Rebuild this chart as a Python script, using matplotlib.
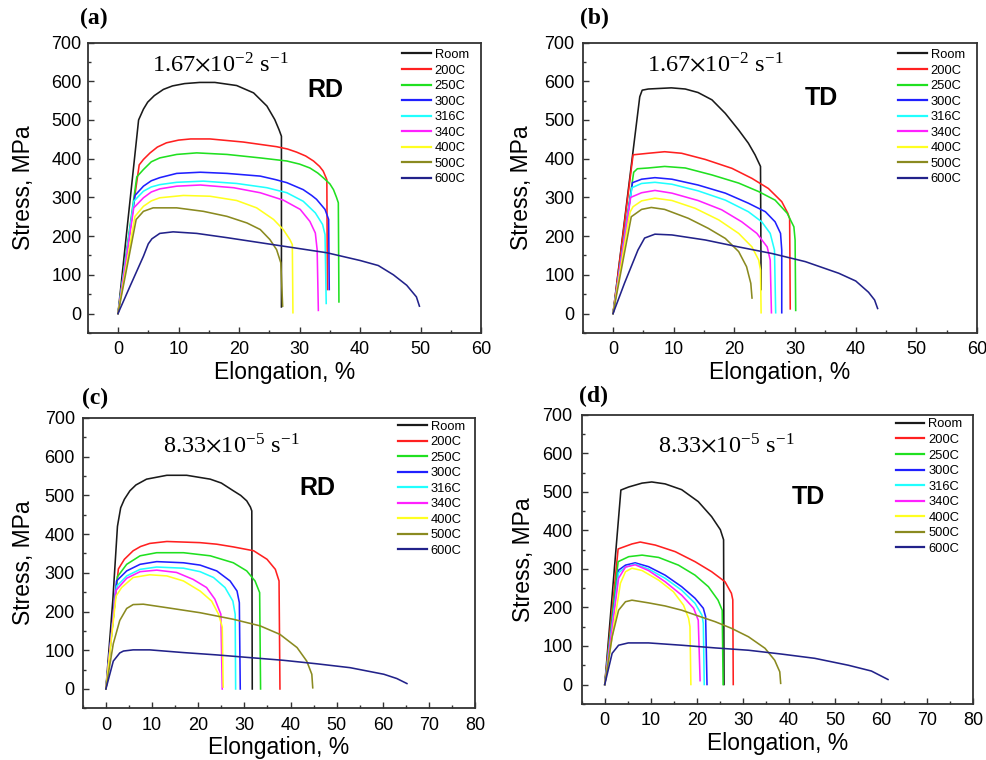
import matplotlib
matplotlib.use("Agg")
import matplotlib.pyplot as plt
from matplotlib.ticker import MultipleLocator

plt.rcParams["font.family"] = ["Liberation Sans", "DejaVu Sans"]
plt.rcParams["mathtext.fontset"] = "stix"

TEMPS = ["Room", "200C", "250C", "300C", "316C", "340C", "400C", "500C", "600C"]
COLORS = ["#1a1a1a", "#ff2020", "#20e020", "#2020ff", "#20ffff",
          "#ff20ff", "#ffff20", "#8a8a20", "#22228a"]

# (a) RD, 1.67e-2 /s : (elongation %, stress MPa) per temperature
panel_a = [
    [(0, 0), (3.4, 500), (4.2, 528), (4.9, 546), (6, 563), (7.5, 579), (9, 588), (11, 594),
     (13.5, 597), (16, 597), (19.6, 589), (22.4, 570), (24.6, 536), (25.9, 501), (26.6, 475),
     (27.0, 458), (27.0, 17)],
    [(0, 0), (3.5, 384), (4.2, 398), (5.3, 415), (6.5, 430), (8, 441), (10, 448), (12, 451),
     (15.2, 451), (20.7, 443), (26.2, 431), (28, 425), (29.5, 417), (31, 407), (32.3, 394),
     (33.3, 380), (33.9, 368), (34.5, 346), (34.6, 62)],
    [(0, 0), (3.1, 353), (4.2, 372), (5.5, 392), (6.9, 402), (9.7, 411), (13, 415), (18, 411),
     (23.5, 402), (27.9, 394), (30, 386), (31.7, 376), (33, 363), (33.9, 351), (35, 335),
     (35.6, 320), (36.1, 300), (36.4, 286), (36.5, 30)],
    [(0, 0), (2.8, 305), (4.2, 329), (5.5, 343), (6.9, 351), (9.7, 362), (13.6, 365), (18, 362),
     (23.5, 355), (26, 346), (27.9, 338), (30.6, 320), (32, 305), (32.8, 295), (34.2, 269),
     (34.8, 243), (34.9, 62)],
    [(0, 0), (2.6, 290), (4.2, 316), (5.5, 327), (6.9, 333), (9.7, 339), (14.1, 342), (19.6, 336),
     (24.6, 325), (27.9, 312), (30.6, 290), (32.6, 260), (33.8, 230), (34.2, 204), (34.4, 26)],
    [(0, 0), (2.6, 273), (4.2, 299), (5.5, 314), (6.9, 322), (9.7, 329), (13.6, 332), (19.1, 325),
     (23.5, 312), (27.3, 293), (30.1, 269), (31.7, 238), (32.6, 208), (32.9, 165), (33.1, 8)],
    [(0, 0), (2.8, 251), (4.2, 277), (5.5, 291), (6.9, 299), (10.8, 305), (15.2, 303), (19.6, 292),
     (22.9, 273), (25.7, 243), (27.3, 217), (28.4, 191), (28.8, 178), (28.9, 2)],
    [(0, 0), (3.0, 243), (4.2, 264), (5.8, 273), (9.7, 273), (14.1, 264), (18, 251), (21.3, 234),
     (23.5, 217), (25.1, 191), (26.2, 165), (26.9, 131), (27.2, 19)],
    [(0, 0), (2, 71), (4.2, 148), (5.0, 180), (5.6, 193), (6.9, 207), (9.1, 211), (13, 207),
     (18, 196), (23.5, 183), (29, 170), (34.5, 157), (40, 137), (43, 124), (45.5, 100),
     (47.7, 73), (49.3, 43), (49.8, 19)],
]

# (b) TD, 1.67e-2 /s
panel_b = [
    [(0, 0), (4.4, 560), (4.8, 577), (5.8, 580), (9.6, 583), (11.9, 580), (14, 571), (16.3, 552),
     (18.5, 517), (20.7, 474), (22.3, 440), (23.4, 410), (24.3, 380), (24.4, 62)],
    [(0, 0), (3.3, 410), (5.8, 414), (8.5, 418), (11.3, 414), (15.2, 398), (19.6, 375), (22.9, 349),
     (25.6, 323), (27.8, 289), (28.8, 259), (29.1, 245), (29.2, 12)],
    [(0, 0), (3.4, 365), (4, 374), (5.8, 376), (8.5, 380), (11.9, 376), (16.3, 358), (20.7, 337),
     (24, 315), (26.7, 293), (28.7, 259), (29.8, 224), (30.0, 190), (30.1, 8)],
    [(0, 0), (3.2, 338), (4.7, 347), (6.9, 351), (9.7, 347), (14, 332), (18.5, 311), (22.3, 285),
     (25.1, 263), (26.7, 237), (27.6, 207), (27.8, 164), (27.8, 2)],
    [(0, 0), (3.1, 325), (4.7, 336), (6.9, 339), (9.7, 334), (14, 317), (18.5, 293), (22.3, 263),
     (24.5, 237), (25.9, 207), (26.6, 164), (26.8, 2)],
    [(0, 0), (2.9, 300), (4.7, 312), (6.9, 318), (9.7, 311), (14, 292), (17.9, 268), (21.2, 237),
     (23.7, 207), (25.4, 172), (25.9, 138), (26.1, 2)],
    [(0, 0), (2.8, 262), (3.3, 276), (4.7, 291), (6.9, 298), (9.7, 292), (13.5, 272), (17.4, 242),
     (20.7, 207), (22.9, 172), (24, 138), (24.3, 112), (24.4, 2)],
    [(0, 0), (3.0, 250), (4.7, 269), (6.3, 274), (8.5, 269), (12.4, 246), (15.7, 220), (18.5, 194),
     (20.7, 160), (22, 121), (22.7, 78), (22.9, 40)],
    [(0, 0), (1.9, 79), (4.1, 164), (5.2, 195), (6.9, 205), (9.7, 203), (15.2, 190), (20.7, 172),
     (26.2, 155), (31.7, 134), (37.2, 104), (40, 84), (42.1, 55), (43.1, 35), (43.6, 13)],
]

# (c) RD, 8.33e-5 /s
panel_c = [
    [(0, 0), (1.5, 230), (2.5, 420), (2.7, 434), (3.2, 468), (4, 490), (5.2, 512), (6.5, 527),
     (8.8, 542), (13.2, 552), (17.5, 552), (22.6, 542), (25, 532), (27.6, 512), (29.2, 500),
     (30.5, 486), (31.3, 470), (31.6, 460), (31.7, 0)],
    [(0, 0), (2.7, 310), (4, 335), (5.9, 357), (7.5, 368), (9.5, 376), (13.2, 381), (20.4, 378),
     (24, 374), (27.6, 367), (32, 357), (34.9, 335), (36.7, 309), (37.5, 279), (37.7, 0)],
    [(0, 0), (2.5, 290), (4.5, 322), (7.4, 344), (11, 352), (16.8, 352), (22.6, 344), (27.6, 326),
     (30.5, 305), (32.3, 279), (33.3, 249), (33.5, 0)],
    [(0, 0), (2.3, 279), (4.5, 305), (7.4, 322), (11, 329), (16.8, 326), (20.4, 320), (24, 305),
     (26.9, 279), (28.4, 253), (28.9, 223), (29.1, 0)],
    [(0, 0), (2.3, 265), (4.5, 292), (7.4, 309), (11, 315), (16.8, 312), (20.4, 303), (23.3, 288),
     (25.8, 262), (27.5, 227), (28, 193), (28.1, 0)],
    [(0, 0), (2.2, 255), (4.5, 286), (7.4, 303), (11, 307), (15.3, 301), (18.9, 283), (21.8, 262),
     (23.6, 232), (24.9, 193), (25.2, 0)],
    [(0, 0), (2.2, 240), (3.4, 262), (5.9, 288), (9.5, 295), (13.2, 292), (16.8, 279), (20.4, 253),
     (22.9, 227), (24.4, 193), (25.2, 160), (25.4, 5)],
    [(0, 0), (1.6, 117), (3.0, 177), (4.5, 208), (5.9, 218), (8.1, 219), (13.2, 210), (20.4, 197),
     (27.6, 180), (33.4, 163), (37.7, 141), (41.4, 107), (43.5, 72), (44.6, 38), (44.8, 3)],
    [(0, 0), (1.6, 72), (3.0, 93), (3.8, 98), (5.9, 101), (9.5, 101), (16.8, 94), (24, 88),
     (31.2, 81), (38.5, 74), (45.7, 65), (52.9, 55), (60.2, 38), (63, 27), (65.2, 14)],
]

# (d) TD, 8.33e-5 /s
panel_d = [
    [(0, 0), (3.5, 505), (5.2, 513), (8.1, 523), (10.2, 526), (13.1, 521), (16.7, 506), (20.3, 475),
     (23.2, 436), (25.1, 402), (25.8, 376), (25.9, 0)],
    [(0, 0), (2.9, 352), (5.9, 365), (7.7, 370), (11, 362), (15.3, 345), (19.6, 319), (23.2, 293),
     (26.1, 267), (27.5, 237), (27.8, 220), (27.9, 0)],
    [(0, 0), (2.9, 319), (5.2, 332), (8.1, 336), (11.7, 330), (16, 310), (19.6, 284), (22.5, 254),
     (24.6, 219), (25.5, 193), (25.7, 0)],
    [(0, 0), (3.0, 297), (4.5, 310), (6.6, 316), (9.5, 306), (13.1, 284), (16.7, 254), (19.6, 224),
     (21.4, 198), (21.9, 176), (22.2, 0)],
    [(0, 0), (3.0, 290), (4.5, 305), (6.6, 313), (9.5, 300), (13.1, 276), (16.7, 245), (19.6, 211),
     (21.1, 180), (21.4, 159), (21.6, 0)],
    [(0, 0), (3.0, 276), (4.5, 305), (6.6, 311), (9.5, 296), (13.1, 267), (16.7, 232), (19.3, 198),
     (20.3, 167), (20.7, 10)],
    [(0, 0), (3.4, 263), (4.5, 293), (5.9, 302), (8.1, 296), (11.7, 271), (14.9, 241), (17.1, 206),
     (18.2, 172), (18.5, 150), (18.7, 0)],
    [(0, 0), (1.6, 124), (3.0, 193), (4.5, 215), (5.9, 219), (9.5, 212), (13.1, 204), (16.7, 193),
     (20.3, 178), (24, 163), (27.5, 146), (31.2, 124), (34.8, 94), (36.9, 63), (38, 33), (38.2, 3)],
    [(0, 0), (1.6, 81), (3.0, 102), (5.1, 108), (9.5, 108), (16.7, 102), (24, 95), (31.2, 89),
     (38.4, 79), (45.6, 68), (52.9, 50), (57.9, 35), (61.5, 13)],
]

PANEL_LABELS = ["(a)", "(b)", "(c)", "(d)"]
RATES = [r"1.67$\times$10$^{\mathregular{-2}}$ s$^{\mathregular{-1}}$",
         r"1.67$\times$10$^{\mathregular{-2}}$ s$^{\mathregular{-1}}$",
         r"8.33$\times$10$^{\mathregular{-5}}$ s$^{\mathregular{-1}}$",
         r"8.33$\times$10$^{\mathregular{-5}}$ s$^{\mathregular{-1}}$"]
DIRECTIONS = ["RD", "TD", "RD", "TD"]
XMAX = [60, 60, 80, 80]

# layout (figure fractions) -- tuned by eye against the reference
AX_POS = [[0.089, 0.562, 0.399, 0.382], [0.591, 0.562, 0.400, 0.382],
          [0.084, 0.068, 0.398, 0.382], [0.590, 0.074, 0.397, 0.380]]
LABEL_POS = [(0.095, 0.976), (0.603, 0.976), (0.096, 0.476), (0.602, 0.478)]
RATE_POS = [(0.163, 0.90), (0.162, 0.90), (0.204, 0.879), (0.194, 0.868)]
DIR_POS = [(0.603, 0.838), (0.604, 0.81), (0.598, 0.759), (0.578, 0.716)]
LEG_POS = [(0.80, 0.978), (0.80, 0.978), (0.804, 0.991), (0.803, 0.988)]
YTICK_PAD = [4.5, 5.8, 5.8, 6.5]
YLABEL_PAD = [11.5, 8.3, 6.8, 5.4]

fig = plt.figure(figsize=(9.86, 7.6), dpi=100)

for k, curves in enumerate([panel_a, panel_b, panel_c, panel_d]):
    ax = fig.add_axes(AX_POS[k])
    for name, color, pts in zip(TEMPS, COLORS, curves):
        xs = [p[0] for p in pts]
        ys = [p[1] for p in pts]
        ax.plot(xs, ys, color=color, lw=1.15, label=name)

    ax.set_xlim(-5, XMAX[k])
    ax.set_ylim(-50, 700)
    ax.xaxis.set_major_locator(MultipleLocator(10))
    ax.xaxis.set_minor_locator(MultipleLocator(5))
    ax.yaxis.set_major_locator(MultipleLocator(100))
    ax.yaxis.set_minor_locator(MultipleLocator(50))
    ax.tick_params(which="both", direction="in", top=False, right=False,
                   labelsize=13, color="#333333", width=1.0)
    ax.tick_params(axis="x", which="both", pad=6)
    ax.tick_params(axis="y", which="both", pad=YTICK_PAD[k])
    ax.tick_params(which="major", length=4.5)
    ax.tick_params(which="minor", length=2.5)
    for sp in ax.spines.values():
        sp.set_linewidth(1.3)
        sp.set_color("#333333")

    ax.set_xlabel("Elongation, %", fontsize=16.5, labelpad=2)
    ax.set_ylabel("Stress, MPa", fontsize=16.5, labelpad=YLABEL_PAD[k])

    ax.text(*RATE_POS[k], RATES[k], transform=ax.transAxes, fontsize=17.5,
            family="Liberation Serif", ha="left", va="baseline")
    ax.text(*DIR_POS[k], DIRECTIONS[k], transform=ax.transAxes, fontsize=18,
            fontweight="bold", ha="center", va="center")

    leg = ax.legend(loc="upper left", bbox_to_anchor=LEG_POS[k], frameon=False,
                    fontsize=9.3, handlelength=2.2, handletextpad=0.3,
                    labelspacing=0.27, borderpad=0, borderaxespad=0)
    for h in leg.get_lines():
        h.set_linewidth(1.6)

    fig.text(*LABEL_POS[k], PANEL_LABELS[k], fontsize=17, fontweight="bold",
             family="Liberation Serif", ha="center", va="center")

fig.savefig("out.png", dpi=100)
